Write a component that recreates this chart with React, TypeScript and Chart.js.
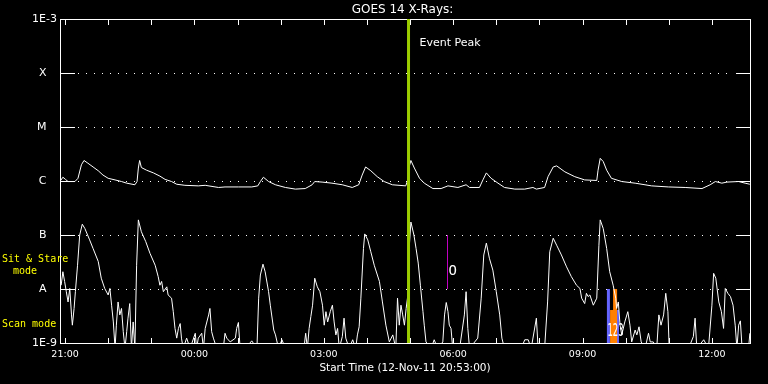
import React, { useEffect, useRef } from 'react';
import { Chart, registerables } from 'chart.js';

Chart.register(...registerables);

// ---------- data (time in hours relative to 00:00 on 13-Nov; flux as log10 W/m^2) ----------
const chartTitle = 'GOES 14 X-Rays:';
const xAxisTitle = 'Start Time (12-Nov-11 20:53:00)';
const startHour = -3 - 7 / 60; // 20:53
const endHour = 12 + 53 / 60; // 12:53
const hourTicks = [-3, -2, -1, 0, 1, 2, 3, 4, 5, 6, 7, 8, 9, 10, 11, 12];
const labeledHours = [-3, 0, 3, 6, 9, 12];
const levelExponents = [-9, -8, -7, -6, -5, -4, -3];
const levelLabels = ['1E-9', 'A   ', 'B   ', 'C   ', 'M   ', 'X   ', '1E-3'];

const eventPeakHour = 4.965;
const markerHour = 5.869;
const markerRange = [-8, -7];

// long channel (1-8 A): [hour, log10 flux]
const longChannel: [number, number][] = [
  [-3.10, -5.99], [-3.05, -5.93], [-2.99, -5.97], [-2.93, -6.01], [-2.77, -6.01], [-2.70, -5.95],
  [-2.62, -5.70], [-2.56, -5.62], [-2.47, -5.67], [-2.35, -5.74], [-2.23, -5.81], [-2.12, -5.89],
  [-2.00, -5.95], [-1.84, -5.98], [-1.69, -6.01], [-1.57, -6.04], [-1.38, -6.07], [-1.33, -6.01],
  [-1.30, -5.76], [-1.27, -5.62], [-1.23, -5.75], [-1.11, -5.80], [-0.95, -5.85], [-0.80, -5.91],
  [-0.68, -5.97], [-0.53, -6.01], [-0.41, -6.06], [-0.22, -6.08], [0.09, -6.09], [0.25, -6.08],
  [0.56, -6.12], [0.71, -6.11], [1.02, -6.11], [1.33, -6.11], [1.47, -6.09], [1.53, -6.01],
  [1.60, -5.93], [1.72, -6.01], [1.88, -6.07], [2.11, -6.12], [2.34, -6.15], [2.57, -6.14],
  [2.73, -6.07], [2.79, -6.01], [2.96, -6.02], [3.19, -6.04], [3.43, -6.07], [3.66, -6.12],
  [3.81, -6.07], [3.89, -5.89], [3.97, -5.74], [4.09, -5.81], [4.24, -5.92], [4.40, -6.01],
  [4.59, -6.07], [4.90, -6.09], [4.95, -5.98], [4.96, -5.80], [5.02, -5.62], [5.10, -5.76],
  [5.22, -5.95], [5.33, -6.04], [5.53, -6.14], [5.72, -6.14], [5.88, -6.09], [6.11, -6.12],
  [6.30, -6.07], [6.38, -6.12], [6.61, -6.12], [6.69, -5.98], [6.77, -5.85], [6.88, -5.95],
  [7.04, -6.04], [7.19, -6.12], [7.43, -6.15], [7.66, -6.15], [7.85, -6.12], [7.93, -6.15],
  [8.12, -6.12], [8.20, -5.92], [8.32, -5.74], [8.40, -5.72], [8.59, -5.83], [8.82, -5.92],
  [9.05, -5.98], [9.33, -5.99], [9.36, -5.80], [9.41, -5.58], [9.48, -5.64], [9.56, -5.80],
  [9.67, -5.95], [9.91, -6.01], [10.22, -6.04], [10.60, -6.09], [10.99, -6.11], [11.38, -6.12],
  [11.77, -6.14], [11.96, -6.07], [12.08, -6.01], [12.23, -6.04], [12.35, -6.02], [12.62, -6.01],
  [12.77, -6.04], [12.88, -6.06],
];

// short channel (0.5-4 A): [hour, log10 flux]; values below 1E-9 fall off the bottom
const shortChannel: [number, number][] = [
  [-3.09, -7.93], [-3.05, -7.68], [-3.01, -7.86], [-2.97, -8.05], [-2.93, -8.24], [-2.89, -7.99],
  [-2.85, -8.48], [-2.83, -8.67], [-2.79, -8.36], [-2.76, -8.05], [-2.71, -7.56], [-2.66, -7.00],
  [-2.60, -6.80], [-2.54, -6.88], [-2.43, -7.09], [-2.35, -7.25], [-2.23, -7.49], [-2.16, -7.80],
  [-2.08, -7.99], [-2.00, -8.11], [-1.96, -7.99], [-1.92, -8.30], [-1.88, -8.61], [-1.84, -9.1],
  [-1.81, -8.67], [-1.77, -8.24], [-1.73, -8.48], [-1.69, -8.36], [-1.65, -8.79], [-1.61, -9.1],
  [-1.57, -8.79], [-1.54, -8.54], [-1.50, -8.27], [-1.46, -9.1], [-1.42, -8.61], [-1.38, -9.1],
  [-1.34, -7.56], [-1.30, -6.72], [-1.23, -6.94], [-1.13, -7.12], [-1.03, -7.34], [-0.91, -7.56],
  [-0.84, -7.77], [-0.80, -7.93], [-0.76, -7.86], [-0.72, -8.05], [-0.64, -7.96], [-0.61, -8.11],
  [-0.53, -8.17], [-0.49, -8.42], [-0.45, -8.73], [-0.41, -8.91], [-0.37, -8.73], [-0.33, -8.64],
  [-0.30, -8.91], [-0.26, -9.1], [-0.18, -8.91], [-0.10, -9.1], [0.02, -8.82], [0.05, -9.1],
  [0.09, -8.91], [0.17, -8.82], [0.21, -9.1], [0.25, -8.73], [0.33, -8.48], [0.36, -8.36],
  [0.40, -8.79], [0.44, -8.91], [0.52, -9.1], [0.67, -9.1], [0.71, -8.82], [0.75, -8.91],
  [0.83, -8.98], [0.95, -8.91], [0.98, -8.73], [1.02, -8.62], [1.06, -9.1], [1.18, -9.1],
  [1.33, -8.96], [1.45, -9.1], [1.49, -8.17], [1.53, -7.74], [1.59, -7.54], [1.64, -7.68],
  [1.72, -8.05], [1.76, -8.30], [1.84, -8.76], [1.88, -8.85], [1.95, -9.1], [2.03, -8.94],
  [2.11, -9.1], [2.54, -9.1], [2.58, -8.82], [2.62, -9.1], [2.66, -8.73], [2.70, -8.51],
  [2.74, -8.30], [2.79, -7.80], [2.85, -7.96], [2.91, -8.05], [2.97, -8.30], [3.01, -8.67],
  [3.05, -8.42], [3.09, -8.61], [3.15, -8.42], [3.20, -8.30], [3.24, -8.61], [3.28, -8.85],
  [3.32, -8.73], [3.36, -9.1], [3.43, -8.88], [3.47, -8.54], [3.51, -8.91], [3.59, -9.1],
  [3.67, -8.94], [3.74, -9.1], [3.78, -8.85], [3.82, -8.70], [3.86, -8.17], [3.92, -7.25],
  [3.95, -6.98], [4.02, -7.09], [4.09, -7.31], [4.17, -7.56], [4.29, -7.86], [4.36, -8.24],
  [4.44, -8.67], [4.52, -8.98], [4.60, -8.85], [4.67, -9.1], [4.71, -8.17], [4.75, -8.67],
  [4.79, -8.30], [4.83, -8.48], [4.87, -8.67], [4.91, -8.36], [4.95, -8.11], [4.98, -7.25],
  [5.02, -6.76], [5.09, -7.00], [5.14, -7.25], [5.19, -7.52], [5.24, -7.93], [5.30, -8.42],
  [5.33, -8.67], [5.37, -8.98], [5.49, -9.1], [5.56, -8.94], [5.64, -9.1], [5.76, -8.98],
  [5.80, -8.48], [5.84, -8.25], [5.88, -8.42], [5.91, -8.67], [5.95, -8.73], [5.99, -9.1],
  [6.15, -9.1], [6.26, -8.48], [6.30, -8.05], [6.34, -8.73], [6.38, -9.1], [6.57, -8.91],
  [6.65, -8.17], [6.71, -7.37], [6.77, -7.15], [6.84, -7.43], [6.92, -7.65], [7.00, -8.05],
  [7.08, -8.48], [7.13, -8.91], [7.19, -9.1], [7.58, -9.1], [7.66, -8.94], [7.74, -8.94],
  [7.81, -9.1], [7.93, -8.54], [7.97, -9.1], [8.12, -9.1], [8.19, -8.24], [8.24, -7.31],
  [8.32, -7.06], [8.40, -7.19], [8.51, -7.37], [8.63, -7.59], [8.74, -7.77], [8.86, -7.93],
  [8.94, -7.99], [8.98, -8.17], [9.05, -8.27], [9.09, -8.08], [9.13, -8.14], [9.17, -8.11],
  [9.25, -8.30], [9.33, -8.17], [9.38, -7.19], [9.41, -6.72], [9.48, -6.88], [9.56, -7.25],
  [9.63, -7.68], [9.71, -7.93], [9.77, -8.17], [9.79, -8.36], [9.83, -8.24], [9.87, -8.67],
  [9.91, -8.85], [9.98, -8.61], [10.05, -8.42], [10.10, -8.67], [10.14, -8.98], [10.22, -8.76],
  [10.26, -8.85], [10.31, -8.70], [10.36, -8.98], [10.45, -9.1], [10.53, -8.82], [10.57, -8.98],
  [10.64, -8.98], [10.72, -9.1], [10.77, -8.48], [10.82, -8.67], [10.88, -8.48], [10.93, -8.08],
  [10.98, -8.42], [11.01, -9.1], [11.46, -9.1], [11.57, -8.88], [11.61, -8.54], [11.65, -9.1],
  [11.81, -8.94], [11.92, -9.1], [12.00, -8.30], [12.04, -7.71], [12.09, -7.80], [12.16, -8.24],
  [12.22, -8.42], [12.27, -8.73], [12.31, -7.99], [12.37, -8.08], [12.43, -8.14], [12.49, -8.30],
  [12.54, -8.67], [12.58, -9.1], [12.62, -8.67], [12.66, -8.59], [12.70, -9.1], [12.85, -9.1],
  [12.88, -8.82],
];

// observation markers: [hour, top log10, bottom log10, colour, pixel width]
const obsMarkers: [number, number, number, string, number][] = [
  [9.60, -8.0, -9.0, '#6464ff', 3],
  [9.72, -8.39, -9.0, '#ff8000', 7],
  [9.755, -8.0, -8.39, '#ff8000', 4],
  [9.81, -8.39, -9.0, '#6464ff', 3],
];

const FONT = '"DejaVu Sans", "Liberation Sans", sans-serif';
const MONO = '"DejaVu Sans Mono", "Liberation Mono", monospace';

const fmtHour = (h: number) => {
  const hh = ((Math.round(h) % 24) + 24) % 24;
  return (hh < 10 ? '0' : '') + hh + ':00';
};

const toPoints = (arr: [number, number][]) => arr.map(([t, l]) => ({ x: t, y: Math.pow(10, l) }));

const decorPlugin = {
  id: 'goesDecor',
  beforeDraw(chart: any) {
    const { ctx, width, height } = chart;
    ctx.save();
    ctx.fillStyle = '#000';
    ctx.fillRect(0, 0, width, height);
    ctx.restore();
  },
  beforeDatasetsDraw(chart: any) {
    const { ctx, chartArea: a, scales } = chart;
    const xs = scales.x;
    const ys = scales.y;
    ctx.save();
    ctx.fillStyle = '#ffffff';
    levelExponents.slice(1, -1).forEach((e) => {
      const py = Math.round(ys.getPixelForValue(Math.pow(10, e)));
      ctx.fillRect(a.left, py, 15, 1);
      ctx.fillRect(a.right - 14, py, 15, 1);
      for (let px = a.left + 18; px < a.right - 16; px += 8) ctx.fillRect(px, py, 1, 1);
    });
    hourTicks.forEach((h) => {
      const px = Math.round(xs.getPixelForValue(h));
      ctx.fillRect(px, a.top, 1, 6);
      ctx.fillRect(px, a.bottom - 5, 1, 6);
    });
    ctx.strokeStyle = '#ffffff';
    ctx.lineWidth = 1;
    ctx.strokeRect(Math.round(a.left) + 0.5, Math.round(a.top) + 0.5, Math.round(a.right - a.left), Math.round(a.bottom - a.top));
    ctx.restore();
  },
  afterDraw(chart: any) {
    const { ctx, chartArea: a, scales } = chart;
    const xs = scales.x;
    const ys = scales.y;
    ctx.save();
    ctx.textBaseline = 'middle';
    ctx.fillStyle = '#ffffff';
    ctx.textAlign = 'center';
    ctx.font = `12px ${FONT}`;
    ctx.fillText(chartTitle, (a.left + a.right) / 2 - 2.5, 10);

    ctx.textAlign = 'left';
    ctx.font = `11px ${FONT}`;
    ctx.fillText('Event Peak', xs.getPixelForValue(eventPeakHour) + 11, a.top + 24);

    ctx.font = `14px ${MONO}`;
    ctx.fillText('O', xs.getPixelForValue(markerHour) + 1, ys.getPixelForValue(Math.pow(10, -7.68)));

    ctx.save();
    ctx.translate(xs.getPixelForValue(9.60) - 1, ys.getPixelForValue(Math.pow(10, -8.78)));
    ctx.scale(0.5, 1);
    ctx.font = `17px ${FONT}`;
    ctx.fillText('123', 0, 0);
    ctx.restore();

    ctx.fillStyle = '#ffff00';
    ctx.font = `10px ${MONO}`;
    ctx.fillText('Sit & Stare', 2, 259);
    ctx.fillText('mode', 13, 271);
    ctx.fillText('Scan mode', 2, 324);
    ctx.restore();
  },
};

export default function App() {
  const ref = useRef<HTMLCanvasElement>(null);
  useEffect(() => {
    const canvas = ref.current;
    if (!canvas) return;
    const datasets: any[] = [
      {
        label: 'Event Peak',
        data: [{ x: eventPeakHour, y: 1e-9 }, { x: eventPeakHour, y: 1e-3 }],
        borderColor: '#9ccc00',
        borderWidth: 3,
        pointRadius: 0,
        order: 0,
      },
      {
        label: '1-8 A',
        data: toPoints(longChannel),
        borderColor: '#ffffff',
        borderWidth: 1,
        pointRadius: 0,
        tension: 0,
        order: 1,
      },
      {
        label: '0.5-4 A',
        data: toPoints(shortChannel),
        borderColor: '#ffffff',
        borderWidth: 1,
        pointRadius: 0,
        tension: 0,
        order: 1,
      },
      {
        label: 'marker',
        data: [{ x: markerHour, y: Math.pow(10, markerRange[0]) }, { x: markerHour, y: Math.pow(10, markerRange[1]) }],
        borderColor: '#c000c0',
        borderWidth: 1,
        pointRadius: 0,
        order: 2,
      },
      ...obsMarkers.map(([t, top, bot, col, w], i) => ({
        label: 'obs' + i,
        data: [{ x: t, y: Math.pow(10, top) }, { x: t, y: Math.pow(10, bot) }],
        borderColor: col,
        borderWidth: w,
        borderCapStyle: 'butt',
        pointRadius: 0,
        order: 3,
      })),
    ];
    const chart = new Chart(canvas, {
      type: 'line',
      data: { datasets },
      options: {
        animation: false,
        responsive: false,
        devicePixelRatio: 1,
        layout: { padding: { left: 0, right: 18, top: 19, bottom: 0 } },
        plugins: {
          legend: { display: false },
          tooltip: { enabled: false },
        },
        scales: {
          x: {
            type: 'linear',
            position: 'bottom',
            min: startHour,
            max: endHour,
            afterBuildTicks: (scale: any) => {
              scale.ticks = labeledHours.map((v) => ({ value: v }));
            },
            afterFit: (scale: any) => {
              scale.height = 41;
            },
            ticks: {
              color: '#ffffff',
              font: { family: FONT, size: 9.5 },
              padding: 6,
              autoSkip: false,
              maxRotation: 0,
              callback: (v: any) => fmtHour(Number(v)),
            },
            grid: { display: false, drawTicks: false },
            border: { display: false },
            title: {
              display: true,
              text: xAxisTitle,
              color: '#ffffff',
              font: { family: FONT, size: 10.5 },
              padding: { top: 0, bottom: 9 },
            },
          },
          y: {
            type: 'logarithmic',
            position: 'left',
            min: 1e-9,
            max: 1e-3,
            afterBuildTicks: (scale: any) => {
              scale.ticks = levelExponents.map((e) => ({ value: Math.pow(10, e) }));
            },
            afterFit: (scale: any) => {
              scale.width = 60;
            },
            ticks: {
              color: '#ffffff',
              font: { family: FONT, size: 11 },
              padding: 3,
              autoSkip: false,
              callback: (v: any) => {
                const e = Math.round(Math.log10(Number(v)));
                const idx = levelExponents.indexOf(e);
                return idx >= 0 ? levelLabels[idx] : '';
              },
            },
            grid: { display: false, drawTicks: false },
            border: { display: false },
          },
        },
      } as any,
      plugins: [decorPlugin],
    });
    return () => chart.destroy();
  }, []);

  return (
    <div style={{ position: 'fixed', left: 0, top: 0, width: 768, height: 384, background: '#000' }}>
      <canvas ref={ref} width={768} height={384} style={{ display: 'block', width: 768, height: 384 }} />
    </div>
  );
}
